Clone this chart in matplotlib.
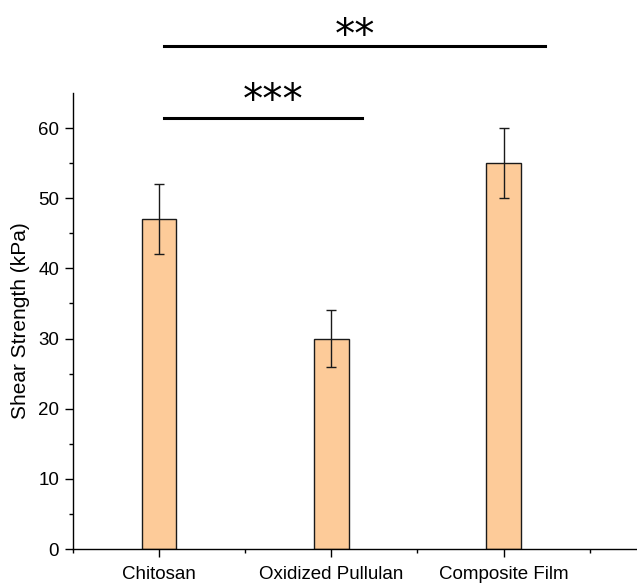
import matplotlib
matplotlib.use("Agg")
import matplotlib.pyplot as plt
import numpy as np

categories = ["Chitosan", "Oxidized Pullulan", "Composite Film"]
values = [47, 30, 55]
errors = [5, 4, 5]
sig_labels = ["***", "**"]

plt.rcParams['font.family'] = ['Liberation Sans', 'DejaVu Sans']

fig = plt.figure(figsize=(6.37, 5.83), dpi=100)
ax = fig.add_axes([0.1146, 0.0583, 0.8854, 0.7822])

x = np.arange(1, len(categories) + 1)
ax.bar(x, values, width=0.2, color='#FDCB99', edgecolor='#1a1a1a', linewidth=1.0, zorder=2)
ax.errorbar(x, values, yerr=errors, fmt='none', ecolor='#1a1a1a', elinewidth=1.0,
            capsize=3.3, capthick=1.0, zorder=3)

ax.set_xlim(0.5, 3.775)
ax.set_ylim(0, 65)
ax.set_xticks(x)
ax.set_xticklabels(categories, fontsize=13.5)
ax.set_xticks([0.5, 1.5, 2.5, 3.5], minor=True)
ax.set_yticks(np.arange(0, 61, 10))
ax.set_yticks(np.arange(5, 61, 10), minor=True)
ax.tick_params(axis='both', which='major', labelsize=13.5, length=6, width=1, direction='out', pad=4)
ax.tick_params(axis='x', which='major', pad=6)
ax.tick_params(axis='both', which='minor', length=3, width=1, direction='out')
ax.set_ylabel("Shear Strength (kPa)", fontsize=15, labelpad=6)
for s in ['top', 'right']:
    ax.spines[s].set_visible(False)
for s in ['left', 'bottom']:
    ax.spines[s].set_linewidth(1.0)

# significance bars
star_font = dict(family=['DejaVu Sans'], fontweight='normal', fontsize=29)
ax.plot([1.03, 2.18], [61.45, 61.45], color='black', lw=2.2, clip_on=False)
ax.text(1.66, 62.2, sig_labels[0], ha='center', va='baseline', clip_on=False, **star_font)
ax.plot([1.03, 3.24], [71.7, 71.7], color='black', lw=2.2, clip_on=False)
ax.text(2.14, 71.45, sig_labels[1], ha='center', va='baseline', clip_on=False, **star_font)

fig.savefig("out.png", dpi=100)
